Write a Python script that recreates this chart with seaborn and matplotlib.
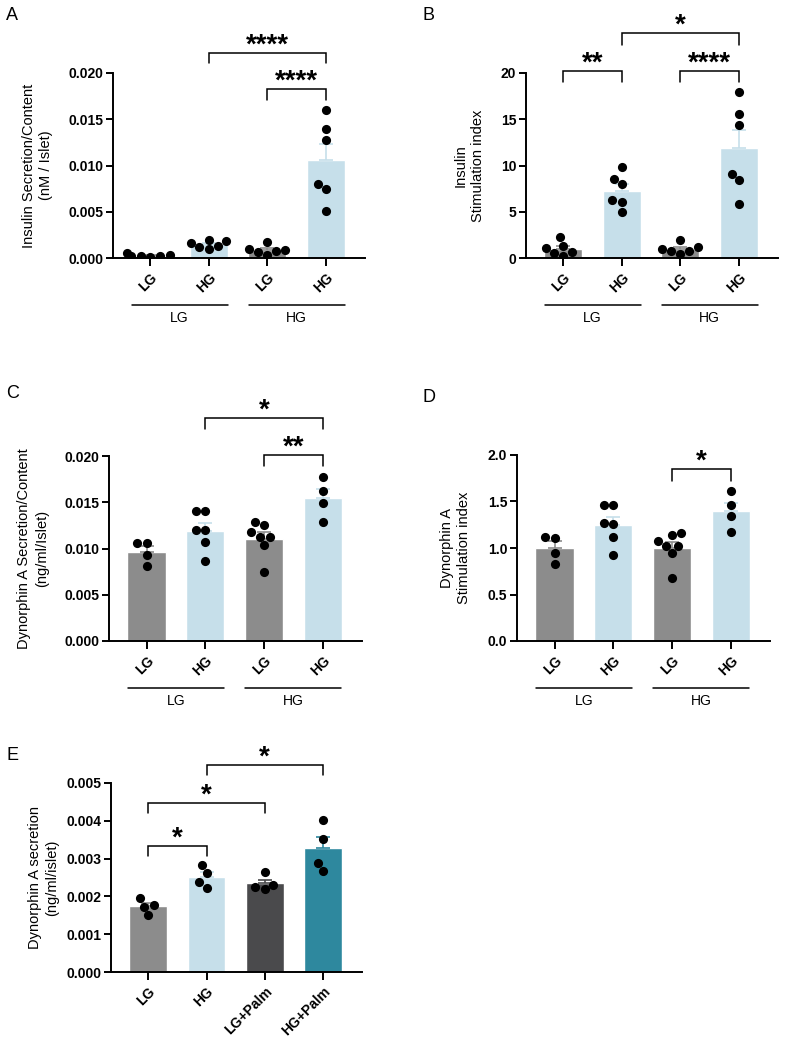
import numpy as np
import pandas as pd
import matplotlib
matplotlib.use("Agg")
import matplotlib.pyplot as plt
import seaborn as sns

# ---------------- data ----------------
cond_keys = ["LG_LG", "LG_HG", "HG_LG", "HG_HG"]
cond_ticklabels = ["LG", "HG", "LG", "HG"]
group_labels = ["LG", "HG"]

# Panel A: Insulin secretion / content (nM / islet)
a_lg_lg = [0.0002, 0.0005, 0.0002, 0.0002, 0.0001, 0.0003]
a_lg_hg = [0.0012, 0.0018, 0.0013, 0.0016, 0.0020, 0.0010]
a_hg_lg = [0.0006, 0.0010, 0.0017, 0.0009, 0.0003, 0.0008]
a_hg_hg = [0.0160, 0.0139, 0.0128, 0.0080, 0.0075, 0.0051]

# Panel B: Insulin stimulation index
b_lg_lg = [0.25, 1.3, 1.05, 2.24, 0.5, 0.6]
b_lg_hg = [9.8, 8.56, 8.0, 6.25, 6.1, 4.95]
b_hg_lg = [0.8, 1.2, 0.8, 1.9, 0.95, 0.45]
b_hg_hg = [18.0, 15.6, 14.4, 9.1, 8.45, 5.8]

# Panel C: Dynorphin A secretion / content (ng/ml/islet)
c_lg_lg = [0.0106, 0.0106, 0.0093, 0.0081]
c_lg_hg = [0.0141, 0.0141, 0.0120, 0.0120, 0.0107, 0.0087]
c_hg_lg = [0.01254, 0.0129, 0.01175, 0.01128, 0.01128, 0.01038, 0.00743]
c_hg_hg = [0.01773, 0.01625, 0.01487, 0.01289]

# Panel D: Dynorphin A stimulation index
d_lg_lg = [1.11, 1.12, 0.95, 0.83]
d_lg_hg = [1.465, 1.465, 1.26, 1.27, 1.12, 0.92]
d_hg_lg = [1.165, 1.14, 1.075, 1.02, 1.02, 0.943, 0.674]
d_hg_hg = [1.61, 1.46, 1.34, 1.17]

# Panel E: Dynorphin A secretion (ng/ml/islet)
e_keys = ["LG", "HG", "LG+Palm", "HG+Palm"]
e_lg = [0.00176, 0.00195, 0.00173, 0.00151]
e_hg = [0.00283, 0.00261, 0.00223, 0.00237]
e_lg_palm = [0.00264, 0.00219, 0.00231, 0.00224]
e_hg_palm = [0.00402, 0.00352, 0.00288, 0.00268]

# y ticks
a_yticks = [0.0, 0.005, 0.010, 0.015, 0.020]
b_yticks = [0, 5, 10, 15, 20]
c_yticks = [0.0, 0.005, 0.010, 0.015, 0.020]
d_yticks = [0.0, 0.5, 1.0, 1.5, 2.0]
e_yticks = [0.0, 0.001, 0.002, 0.003, 0.004, 0.005]

# significance comparisons (index1, index2, label)
a_comps = [(1, 3, "****"), (2, 3, "****")]
b_comps = [(1, 3, "*"), (0, 1, "**"), (2, 3, "****")]
c_comps = [(1, 3, "*"), (2, 3, "**")]
d_comps = [(2, 3, "*")]
e_comps = [(1, 3, "*"), (0, 2, "*"), (0, 1, "*")]

# ---------------- style ----------------
GREY = "#8c8c8c"
LBLUE = "#c6dfea"
DGREY = "#4a4a4c"
TEAL = "#2e889e"

sns.set_theme(style="ticks")
plt.rcParams["font.family"] = ["Liberation Sans", "DejaVu Sans"]
plt.rcParams["axes.linewidth"] = 1.4
plt.rcParams["text.color"] = "black"
plt.rcParams["axes.labelcolor"] = "black"
plt.rcParams["xtick.color"] = "black"
plt.rcParams["ytick.color"] = "black"
plt.rcParams["axes.edgecolor"] = "black"

W, H = 787, 1049
fig = plt.figure(figsize=(W / 100, H / 100), dpi=100)


def px_axes(left, top, right, bottom):
    return fig.add_axes([left / W, 1 - bottom / H, (right - left) / W, (bottom - top) / H])


def make_df(keys, arrays):
    rows = []
    for k, arr in zip(keys, arrays):
        for v in arr:
            rows.append({"cond": k, "val": v})
    return pd.DataFrame(rows)


def draw_panel(ax, keys, arrays, colors, ticklabels, yticks, yfmt, ylabel,
               label_x, brackets, comps, groups=True):
    df = make_df(keys, arrays)
    pal = dict(zip(keys, colors))
    sns.barplot(data=df, x="cond", y="val", order=keys, hue="cond",
                hue_order=keys, palette=pal, errorbar=None, width=0.65,
                saturation=1, legend=False, ax=ax, zorder=2)
    # SEM error bars (upper only, GraphPad style)
    for i, (k, arr) in enumerate(zip(keys, arrays)):
        a = np.asarray(arr, dtype=float)
        m = a.mean()
        sem = a.std(ddof=1) / np.sqrt(len(a))
        ax.errorbar(i, m, yerr=[[0], [sem]], fmt="none", ecolor=colors[i],
                    elinewidth=1.2, capsize=4.7, capthick=1.2, zorder=3)
    sns.swarmplot(data=df, x="cond", y="val", order=keys, color="black",
                  size=6.6, ax=ax, zorder=4, linewidth=0)

    ax.set_xlim(-0.64, 3.67)
    ax.set_ylim(yticks[0], yticks[-1])
    ax.set_yticks(yticks)
    ax.set_yticklabels([yfmt.format(t) for t in yticks], fontsize=10,
                       fontweight="bold", color="black")
    ax.set_xticks(range(len(keys)))
    ax.set_xticklabels(ticklabels, rotation=45, ha="right",
                       rotation_mode="anchor", fontsize=10, fontweight="bold",
                       color="black")
    ax.set_xlabel("")
    ax.set_ylabel(ylabel, fontsize=10.5, linespacing=1.3, color="black")
    ax.yaxis.set_label_coords(label_x, 0.5)
    ax.tick_params(axis="y", length=5, width=1.4, pad=2, colors="black")
    ax.tick_params(axis="x", length=6, width=1.4, pad=3, colors="black")
    for s in ["top", "right"]:
        ax.spines[s].set_visible(False)
    for s in ["left", "bottom"]:
        ax.spines[s].set_color("black")
        ax.spines[s].set_linewidth(1.4)
    ax.spines["left"].set_zorder(5)
    ax.spines["bottom"].set_zorder(5)

    tr = ax.get_xaxis_transform()
    # significance brackets
    for (i, j, txt), (yl, yt) in zip(comps, brackets):
        ax.plot([i, i, j, j], [yt, yl, yl, yt], color="black", lw=1.1,
                transform=tr, clip_on=False, solid_joinstyle="miter")
        ax.text((i + j) / 2, yl, txt, transform=tr, ha="center",
                va="baseline", fontsize=20, fontweight="bold", color="black")

    # group underlines
    if groups:
        for gl, c0 in zip(group_labels, [0.5, 2.5]):
            ax.plot([c0 - 0.82, c0 + 0.82], [-0.254, -0.254], color="black",
                    lw=1.1, transform=tr, clip_on=False)
            ax.text(c0, -0.325, gl, transform=tr, ha="center", va="center",
                    fontsize=10, color="black")


# Panel A
axA = px_axes(113, 73, 365, 258)
draw_panel(axA, cond_keys, [a_lg_lg, a_lg_hg, a_hg_lg, a_hg_hg],
           [GREY, LBLUE, GREY, LBLUE], cond_ticklabels, a_yticks, "{:.3f}",
           "Insulin Secretion/Content\n(nM / Islet)", -0.238,
           [(1.108, 1.054), (0.914, 0.854)], a_comps)

# Panel B
axB = px_axes(526, 73, 778, 258)
draw_panel(axB, cond_keys, [b_lg_lg, b_lg_hg, b_hg_lg, b_hg_hg],
           [GREY, LBLUE, GREY, LBLUE], cond_ticklabels, b_yticks, "{:.0f}",
           "Insulin\nStimulation index", -0.163,
           [(1.216, 1.151), (1.011, 0.951), (1.011, 0.951)], b_comps)

# Panel C
axC = px_axes(109, 456, 362, 641)
draw_panel(axC, cond_keys, [c_lg_lg, c_lg_hg, c_hg_lg, c_hg_hg],
           [GREY, LBLUE, GREY, LBLUE], cond_ticklabels, c_yticks, "{:.3f}",
           "Dynorphin A Secretion/Content\n(ng/ml/Islet)", -0.238,
           [(1.205, 1.146), (1.005, 0.946)], c_comps)

# Panel D
axD = px_axes(517, 455, 770, 641)
draw_panel(axD, cond_keys, [d_lg_lg, d_lg_hg, d_hg_lg, d_hg_hg],
           [GREY, LBLUE, GREY, LBLUE], cond_ticklabels, d_yticks, "{:.1f}",
           "Dynorphin A\nStimulation index", -0.18,
           [(0.925, 0.860)], d_comps)

# Panel E
axE = px_axes(111, 783, 362, 972)
draw_panel(axE, e_keys, [e_lg, e_hg, e_lg_palm, e_hg_palm],
           [GREY, LBLUE, DGREY, TEAL], e_keys, e_yticks, "{:.3f}",
           "Dynorphin A secretion\n(ng/ml/islet)", -0.206,
           [(1.095, 1.042), (0.894, 0.841), (0.667, 0.614)], e_comps,
           groups=False)

# panel letters
for letter, (x, y) in zip("ABCDE", [(6, 15), (422, 15), (6, 393), (422, 398), (6, 756)]):
    fig.text(x / W, 1 - y / H, letter, fontsize=13, ha="left", va="center",
             color="black")

fig.savefig("out.png", dpi=100)
